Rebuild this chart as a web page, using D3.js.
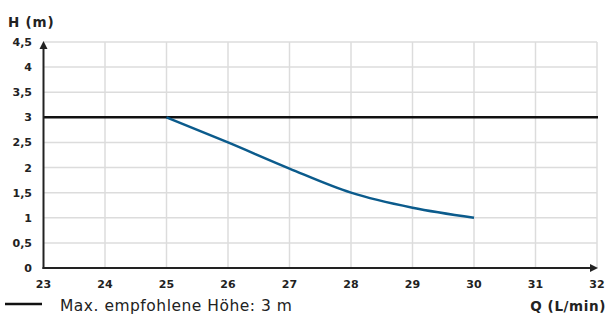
<!DOCTYPE html>
<html>
<head>
<meta charset="utf-8">
<script src="https://cdn.jsdelivr.net/npm/d3@7"></script>
<style>
  body { margin: 0; background: #fff; }
  text { font-family: "DejaVu Sans", sans-serif; }
</style>
</head>
<body>
<script>
const flow = [25, 26, 27, 28, 29, 30]
const head = [3, 2.5, 1.98, 1.5, 1.2, 1.0]
const maxHead = 3
const xTicks = [23, 24, 25, 26, 27, 28, 29, 30, 31, 32]
const yTicks = [0, 0.5, 1, 1.5, 2, 2.5, 3, 3.5, 4, 4.5]
const legendLabel = "Max. empfohlene Höhe: 3 m"

const width = 608
const height = 314

const x = d3.scaleLinear().domain([23, 32]).range([43.5, 597])
const y = d3.scaleLinear().domain([0, 4.5]).range([268, 42])

const svg = d3.select("body").append("svg")
    .attr("width", width)
    .attr("height", height)

// grid
svg.append("g")
    .attr("stroke", "#dcdcdc")
    .attr("stroke-width", 1.5)
    .selectAll("line")
    .data(xTicks.slice(1))
    .join("line")
    .attr("x1", d => x(d)).attr("x2", d => x(d))
    .attr("y1", y(4.5)).attr("y2", y(0))

svg.append("g")
    .attr("stroke", "#dcdcdc")
    .attr("stroke-width", 1.5)
    .selectAll("line")
    .data(yTicks.slice(1))
    .join("line")
    .attr("x1", x(23)).attr("x2", x(32))
    .attr("y1", d => y(d)).attr("y2", d => y(d))

// max line
svg.append("line")
    .attr("x1", x(23)).attr("x2", x(32) + 1)
    .attr("y1", y(maxHead)).attr("y2", y(maxHead))
    .attr("stroke", "#111")
    .attr("stroke-width", 2.5)

// curve
const line = d3.line()
    .x((d, i) => x(flow[i]))
    .y(d => y(d))
    .curve(d3.curveMonotoneX)

svg.append("path")
    .datum(head)
    .attr("d", line)
    .attr("fill", "none")
    .attr("stroke", "#0b5b8c")
    .attr("stroke-width", 2.5)

// axes
svg.append("line")
    .attr("x1", x(23)).attr("x2", x(23))
    .attr("y1", y(0) + 1).attr("y2", y(4.5) + 2)
    .attr("stroke", "#222").attr("stroke-width", 2)
svg.append("path")
    .attr("d", `M${x(23) - 4},${y(4.5) + 7} L${x(23)},${y(4.5) - 1} L${x(23) + 4},${y(4.5) + 7} Z`)
    .attr("fill", "#222")

svg.append("line")
    .attr("x1", x(23) - 1).attr("x2", x(32) - 2)
    .attr("y1", y(0)).attr("y2", y(0))
    .attr("stroke", "#222").attr("stroke-width", 2)
svg.append("path")
    .attr("d", `M${x(32) - 7},${y(0) - 4} L${x(32) + 1},${y(0)} L${x(32) - 7},${y(0) + 4} Z`)
    .attr("fill", "#222")

// tick labels
svg.append("g")
    .selectAll("text")
    .data(yTicks)
    .join("text")
    .attr("x", 32)
    .attr("y", d => y(d) + 4)
    .attr("text-anchor", "end")
    .attr("font-size", 11)
    .attr("font-weight", "bold")
    .attr("fill", "#222")
    .text(d => String(d).replace(".", ","))

svg.append("g")
    .selectAll("text")
    .data(xTicks)
    .join("text")
    .attr("x", d => x(d))
    .attr("y", 288)
    .attr("text-anchor", "middle")
    .attr("font-size", 11)
    .attr("font-weight", "bold")
    .attr("fill", "#222")
    .text(d => d)

// axis titles
svg.append("text")
    .attr("x", 8).attr("y", 27)
    .attr("font-size", 13.5)
    .attr("font-weight", "bold")
    .attr("letter-spacing", 0.8)
    .attr("fill", "#222")
    .text("H (m)")

svg.append("text")
    .attr("x", 606).attr("y", 311)
    .attr("text-anchor", "end")
    .attr("font-size", 13.5)
    .attr("font-weight", "bold")
    .attr("letter-spacing", 0.6)
    .attr("fill", "#222")
    .text("Q (L/min)")

// legend
svg.append("line")
    .attr("x1", 5).attr("x2", 42)
    .attr("y1", 304).attr("y2", 304)
    .attr("stroke", "#111").attr("stroke-width", 2.5)
svg.append("text")
    .attr("x", 60).attr("y", 311)
    .attr("font-size", 15.5)
    .attr("letter-spacing", 0.5)
    .attr("fill", "#222")
    .text(legendLabel)
</script>
</body>
</html>
